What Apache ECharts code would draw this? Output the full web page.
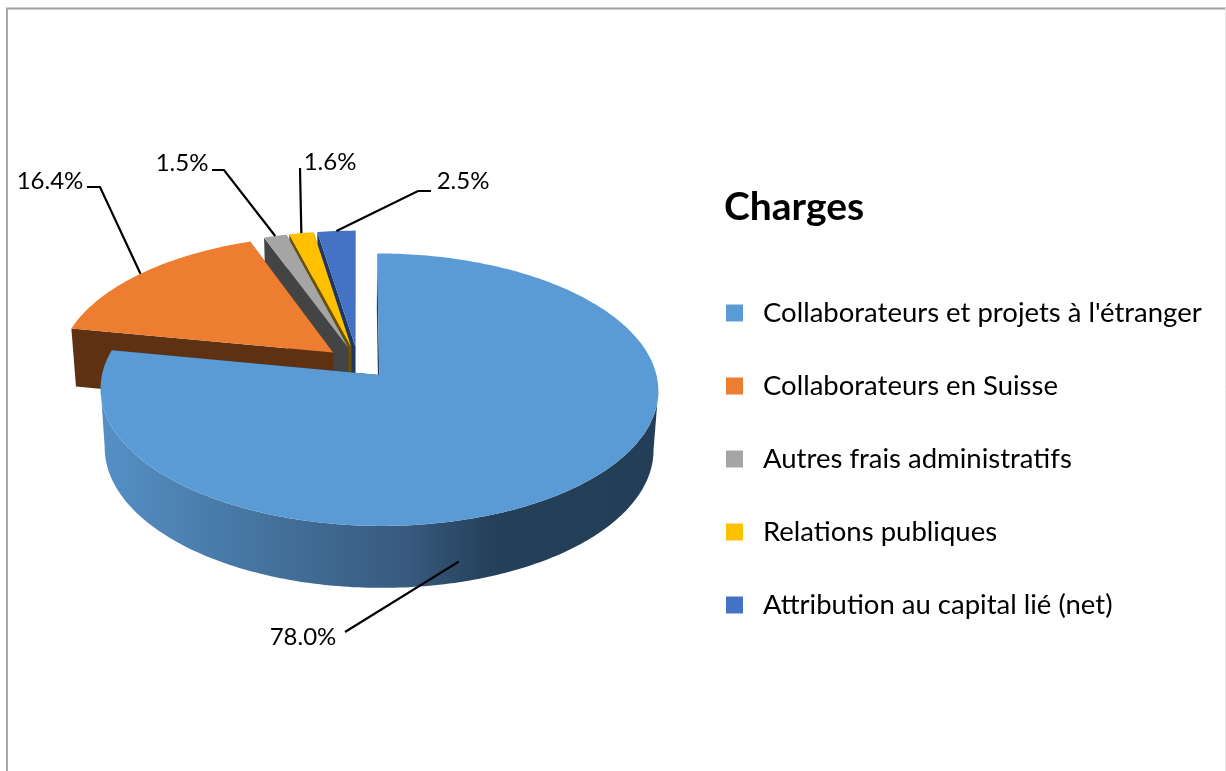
<!DOCTYPE html>
<html>
<head>
<meta charset="utf-8">
<title>Charges</title>
<script src="https://cdn.jsdelivr.net/npm/echarts@6/dist/echarts.min.js"></script>
<style>
  html, body { margin: 0; padding: 0; background: #fff; }
  #main { width: 1226px; height: 771px; }
</style>
</head>
<body>
<div id="main"></div>
<script>
var categories = [
  "Collaborateurs et projets à l'étranger",
  'Collaborateurs en Suisse',
  'Autres frais administratifs',
  'Relations publiques',
  'Attribution au capital lié (net)'
];
var shares = [78.0, 16.4, 1.5, 1.6, 2.5];

var topColors = ['#5b9bd5', '#ed7d31', '#a5a5a5', '#ffc000', '#4472c4'];
var faceColors = ['#24405a', '#5f3113', '#444444', '#6b5200', '#1f3660'];
var drawOrder = [4, 3, 2, 1, 0];

// label text position and elbow of each leader line, in px
var labelPos = [[303, 637], [50, 181], [182, 163], [330, 162], [463, 181]];
var leaderStart = [[345, 632], [87, 187], [212, 170], [299, 169], [431, 191]];
var leaderKnee = [[345, 632], [100, 187], [224, 170], [300, 169], [418, 191]];

// pie projection
var cx = 358, cy = 362.6, radX = 274.5, radY = 132, tilt = 0.107;
var explode = 0.12, wallShrink = 0.016, wallBase = 51.3, wallSlope = 0.0203;
var total = shares.reduce(function (a, b) { return a + b; }, 0);

function sliceAngles(i) {
  var start = 0;
  for (var k = 0; k < i; k++) start += shares[k] / total * 2 * Math.PI;
  return [start, start + shares[i] / total * 2 * Math.PI];
}

function project(u, v) {
  var w = 1 + tilt * v;
  return [cx + radX * u / w, cy - radY * v / w];
}

function drop(p) {
  return [p[0] + (cx - p[0]) * wallShrink, p[1] + wallBase + wallSlope * p[1]];
}

function sliceShapes(i) {
  var a = sliceAngles(i);
  var mid = (a[0] + a[1]) / 2;
  var ox = explode * Math.sin(mid), oy = explode * Math.cos(mid);
  var steps = Math.max(4, Math.round((a[1] - a[0]) * 60));
  var rim = [];
  for (var s = 0; s <= steps; s++) {
    var t = a[0] + (a[1] - a[0]) * s / steps;
    rim.push(project(ox + Math.sin(t), oy + Math.cos(t)));
  }
  return {
    apex: project(ox, oy),
    rim: rim,
    rimAt: function (t) { return project(ox + Math.sin(t), oy + Math.cos(t)); },
    mid: mid
  };
}

// part of the rim facing the viewer: from its right end round the front to its left end
function frontRim(rim) {
  var right = 0, left = 0;
  rim.forEach(function (p, k) {
    if (p[0] > rim[right][0]) right = k;
    if (p[0] < rim[left][0]) left = k;
  });
  return right < left ? rim.slice(right, left + 1) : [];
}

function renderSlice(i) {
  return function () {
    var s = sliceShapes(i);
    var first = s.rim[0], last = s.rim[s.rim.length - 1];
    var wallFill = i === 0 ? new echarts.graphic.LinearGradient(0, 0, 1, 0, [
      { offset: 0, color: '#5590c6' },
      { offset: 0.3, color: '#44729c' },
      { offset: 0.55, color: '#385a7e' },
      { offset: 0.7, color: '#24405a' },
      { offset: 1, color: '#233e56' }
    ]) : faceColors[i];
    function poly(points, fill) {
      return { type: 'polygon', shape: { points: points }, style: { fill: fill } };
    }
    var children = [];
    var front = frontRim(s.rim);
    if (front.length) {
      children.push(poly(front.concat(front.map(drop).reverse()), wallFill));
    }
    children.push(
      poly([s.apex, first, drop(first), drop(s.apex)], faceColors[i]),
      poly([s.apex, last, drop(last), drop(s.apex)], faceColors[i]),
      poly([s.apex].concat(s.rim), topColors[i])
    );
    return { type: 'group', children: children };
  };
}

function leaderEnd(i) {
  var s = sliceShapes(i);
  if (i === 0) {
    // the big slice's line ends on its outer wall
    var p = s.rimAt(165.6 * Math.PI / 180);
    return [p[0], p[1] + 41];
  }
  return s.rimAt(s.mid);
}

function renderLabel(i) {
  return function () {
    return {
      type: 'group',
      children: [
        {
          type: 'polyline',
          shape: { points: [leaderStart[i], leaderKnee[i], leaderEnd(i)] },
          style: { fill: null, stroke: '#000', lineWidth: 2.2 }
        },
        {
          type: 'text',
          x: labelPos[i][0],
          y: labelPos[i][1],
          style: {
            text: shares[i].toFixed(1) + '%',
            fill: '#000',
            font: '24px Lato',
            align: 'center',
            verticalAlign: 'middle'
          }
        }
      ]
    };
  };
}

var series = categories.map(function (name, i) {
  return {
    name: name,
    type: 'custom',
    coordinateSystem: 'none',
    silent: true,
    z: 2 + drawOrder.indexOf(i),
    itemStyle: { color: topColors[i] },
    data: [shares[i]],
    renderItem: renderSlice(i)
  };
});
shares.forEach(function (v, i) {
  series.push({
    type: 'custom',
    coordinateSystem: 'none',
    silent: true,
    z: 20,
    data: [v],
    renderItem: renderLabel(i)
  });
});

var chart = echarts.init(document.getElementById('main'), null, { renderer: 'canvas' });
chart.setOption({
  animation: false,
  backgroundColor: '#fff',
  title: {
    text: 'Charges',
    left: 719,
    top: 183,
    textStyle: { color: '#000', fontFamily: 'Lato', fontWeight: 'bold', fontSize: 39 }
  },
  legend: {
    orient: 'vertical',
    left: 721,
    top: 294,
    icon: 'rect',
    itemWidth: 17,
    itemHeight: 17,
    itemGap: 45,
    selectedMode: false,
    data: categories,
    textStyle: { color: '#000', fontFamily: 'Lato', fontSize: 27.5, padding: [0, 0, 0, 15] }
  },
  graphic: [
    { type: 'line', shape: { x1: 6, y1: 8.5, x2: 1226, y2: 8.5 }, style: { stroke: '#a0a0a0', lineWidth: 2 } },
    { type: 'line', shape: { x1: 7, y1: 8, x2: 7, y2: 771 }, style: { stroke: '#a8a8a8', lineWidth: 2 } },
    { type: 'line', shape: { x1: 1225.5, y1: 8, x2: 1225.5, y2: 771 }, style: { stroke: '#e6e6e6', lineWidth: 1 } }
  ],
  series: series
});
</script>
</body>
</html>
